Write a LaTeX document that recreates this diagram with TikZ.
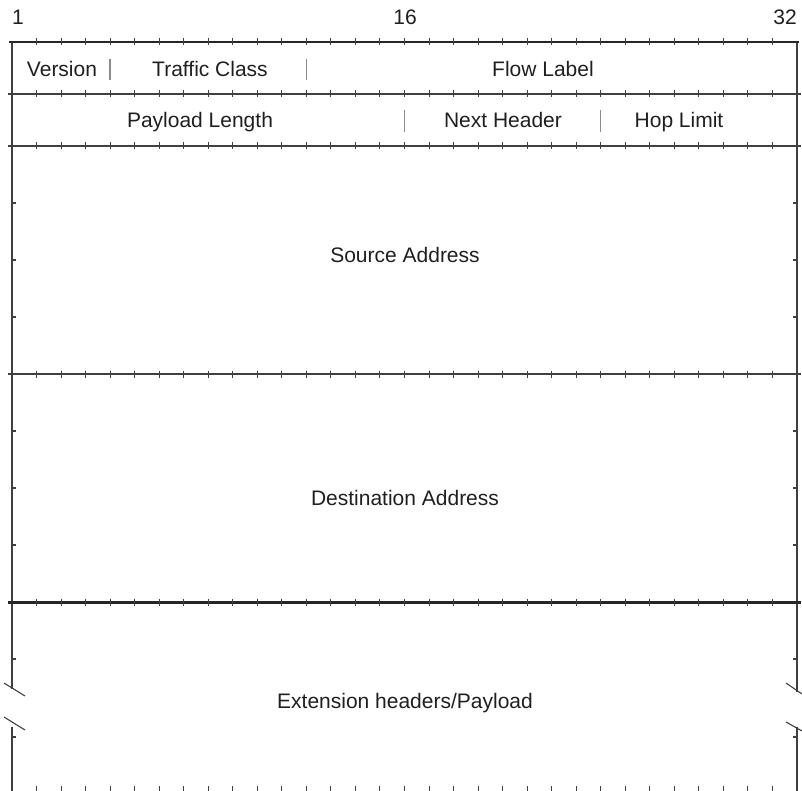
\documentclass[tikz,border=0pt]{standalone}
\usepackage{fontspec}
\setmainfont{Liberation Sans}
\begin{document}
\begin{tikzpicture}[x=1pt,y=-1pt,
  frame/.style={draw=black!75,line width=1.3pt},
  thickline/.style={draw=black!85,line width=2.6pt},
  tick/.style={draw=black!75,line width=1pt},
  sep/.style={draw=black!45,line width=1.3pt},
  lbl/.style={inner sep=0pt,anchor=base,text=black!88,font=\fontsize{21}{25}\selectfont},
  num/.style={inner sep=0pt,text=black!88,font=\fontsize{21}{25}\selectfont}]
\useasboundingbox (0,0) rectangle (802,791);
\def\xl{12}\def\xr{797}\def\bw{24.53125}
% bit numbers
\node[num,anchor=base west] (n1) at (\xl,25) {1};
\node[num,anchor=base] (n16) at (405,25) {16};
\node[num,anchor=base east] (n32) at (\xr,25) {32};
% side lines
\coordinate (lt) at (\xl,42); \coordinate (lb1) at (\xl,689);
\coordinate (lb2) at (\xl,727); \coordinate (lb) at (\xl,791);
\coordinate (rt) at (\xr,42); \coordinate (rb1) at (\xr,692);
\coordinate (rb2) at (\xr,727); \coordinate (rb) at (\xr,791);
\draw[frame] (lt) -- (lb1);
\draw[frame] (lb2) -- (lb);
\draw[frame] (rt) -- (rb1);
\draw[frame] (rb2) -- (rb);
% break marks
\draw[frame,line width=1.1pt] (4,683) -- (25,696);
\draw[frame,line width=1.1pt] (4,717) -- (25,730);
\draw[frame,line width=1.1pt] (786,683) -- (802,694);
\draw[frame,line width=1.1pt] (786,722) -- (802,731);
% horizontal lines
\draw[thickline] (9,42) -- (799,42);
\foreach \y in {94,146,374}{\draw[frame] (8,\y) -- (801,\y);}
\draw[thickline,line width=3pt] (8,602) -- (801,602);
% ticks on horizontal lines
\foreach \y in {42,94,146,374,602}{
  \foreach \i in {1,...,31}{\draw[tick] ({\xl+\i*\bw},\y-3.5) -- ({\xl+\i*\bw},\y+3.5);}}
\foreach \i in {1,...,31}{\draw[tick] ({\xl+\i*\bw},786) -- ({\xl+\i*\bw},791);}
% side ticks
\foreach \y in {203,260,317,431,488,545,659,737}{
  \draw[tick,line width=1.4pt] (\xl,\y) -- (\xl+4,\y);
  \draw[tick,line width=1.4pt] (\xr-4,\y) -- (\xr,\y);}
% field separators
\draw[sep] ({\xl+4*\bw},59) -- ({\xl+4*\bw},80);
\draw[sep] ({\xl+12*\bw},59) -- ({\xl+12*\bw},80);
\draw[sep] ({\xl+16*\bw},110) -- ({\xl+16*\bw},132);
\draw[sep] ({\xl+24*\bw},110) -- ({\xl+24*\bw},132);
% labels
\node[lbl] (ver) at (62,77) {Version};
\node[lbl] (tc) at (210,77) {Traffic Class};
\node[lbl] (fl) at (543,77) {Flow Label};
\node[lbl] (pl) at (200,128) {Payload Length};
\node[lbl] (nh) at (503,128) {Next Header};
\node[lbl] (hl) at (679,128) {Hop Limit};
\node[lbl] (sa) at (405,263) {Source Address};
\node[lbl] (da) at (405,505) {Destination Address};
\node[lbl] (ext) at (405,708) {Extension headers/Payload};
\end{tikzpicture}
\end{document}
